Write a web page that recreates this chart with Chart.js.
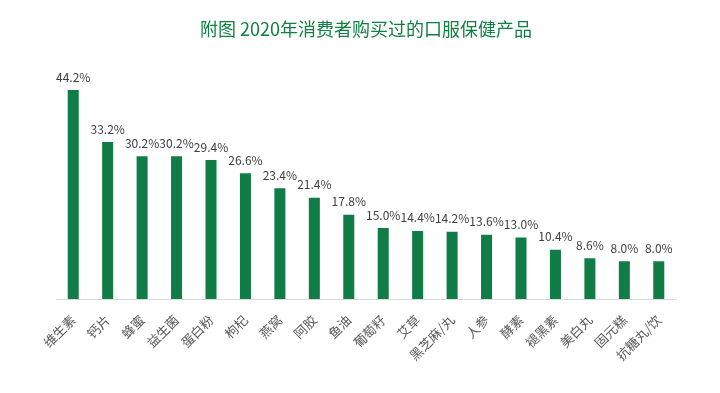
<!DOCTYPE html>
<html lang="zh">
<head>
    <meta charset="UTF-8">
    <title>口服保健产品</title>
    <script src="https://cdn.jsdelivr.net/npm/chart.js@4.4.0/dist/chart.umd.min.js"></script>
    <style>
        html, body { margin: 0; padding: 0; background: #fff; }
        #wrap { width: 720px; height: 393px; }
    </style>
</head>
<body>
    <div id="wrap"><canvas id="chart" width="720" height="393"></canvas></div>

    <script>
        const products = ['维生素', '钙片', '蜂蜜', '益生菌', '蛋白粉', '枸杞', '燕窝', '阿胶', '鱼油',
            '葡萄籽', '艾草', '黑芝麻/丸', '人参', '酵素', '褪黑素', '美白丸', '固元糕', '抗糖丸/饮'];
        const shares = [44.2, 33.2, 30.2, 30.2, 29.4, 26.6, 23.4, 21.4, 17.8,
            15.0, 14.4, 14.2, 13.6, 13.0, 10.4, 8.6, 8.0, 8.0];

        const cjk = '"Microsoft YaHei", "Noto Sans CJK SC", sans-serif';

        // draw the percent above each bar
        const valueLabels = {
            id: 'valueLabels',
            afterDatasetsDraw(chart) {
                const ctx = chart.ctx;
                const meta = chart.getDatasetMeta(0);
                ctx.save();
                ctx.font = '12px ' + cjk;
                ctx.fillStyle = '#404040';
                ctx.textAlign = 'center';
                ctx.textBaseline = 'bottom';
                meta.data.forEach(function(bar, i) {
                    ctx.fillText(shares[i].toFixed(1) + '%', bar.x, bar.y - 7);
                });
                ctx.restore();
            }
        };

        new Chart(document.getElementById('chart'), {
            type: 'bar',
            data: {
                labels: products,
                datasets: [{
                    data: shares,
                    backgroundColor: '#107c46',
                    barPercentage: 0.64,
                    categoryPercentage: 0.5
                }]
            },
            options: {
                responsive: false,
                animation: false,
                layout: { padding: { left: 56, right: 44 } },
                plugins: {
                    legend: { display: false },
                    tooltip: { enabled: false },
                    title: {
                        display: true,
                        text: '附图 2020年消费者购买过的口服保健产品',
                        color: '#108043',
                        font: { family: cjk, size: 18, weight: 'normal' },
                        padding: { top: 18, bottom: 23 }
                    }
                },
                scales: {
                    x: {
                        grid: { display: false, drawTicks: false },
                        border: { color: '#d9d9d9', width: 1 },
                        ticks: {
                            color: '#595959',
                            font: { family: cjk, size: 13 },
                            maxRotation: 45,
                            minRotation: 45,
                            padding: 13,
                            autoSkip: false
                        },
                        afterFit: function(s) { s.height = 94; }
                    },
                    y: {
                        display: false,
                        min: 0,
                        max: 50
                    }
                }
            },
            plugins: [valueLabels]
        });
    </script>
</body>
</html>
